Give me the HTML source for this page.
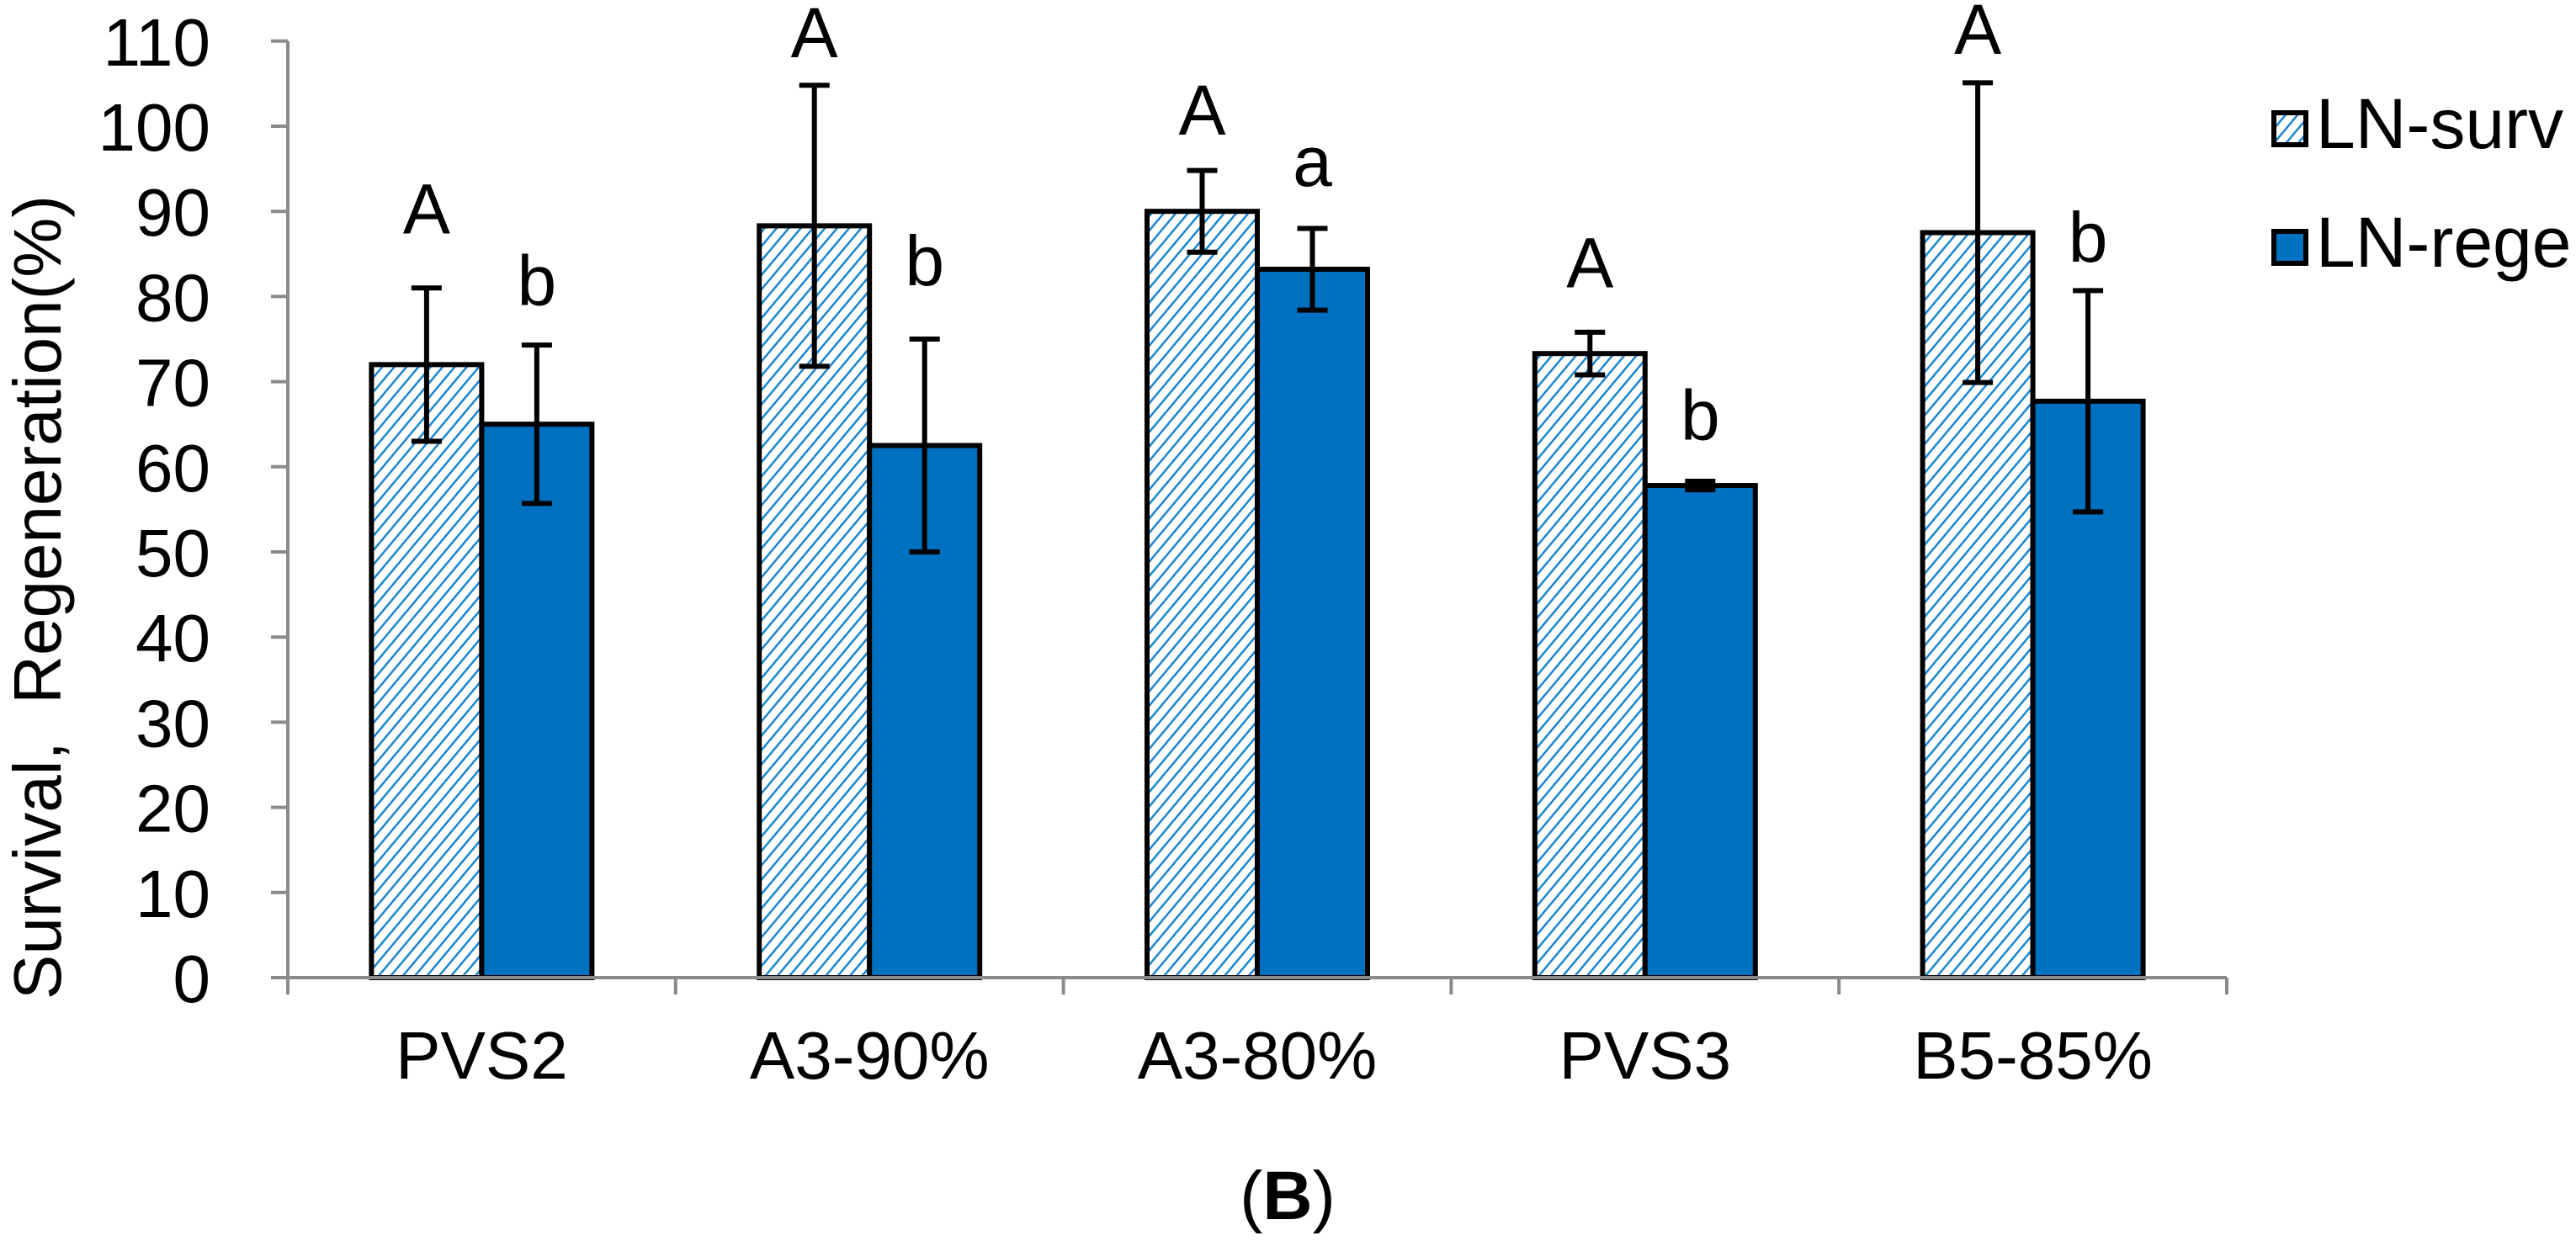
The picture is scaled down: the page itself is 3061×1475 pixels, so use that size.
<!DOCTYPE html>
<html><head><meta charset="utf-8"><style>
html,body{margin:0;padding:0;background:#fff;}
svg{display:block;}
text{font-family:"Liberation Sans",Arial,sans-serif;fill:#000;}
</style></head><body>
<svg id="chart" width="3061" height="1475" viewBox="0 0 3061 1475">
<defs>
<pattern id="hatch" patternUnits="userSpaceOnUse" width="11" height="11" patternTransform="rotate(40)">
<rect width="11" height="11" fill="#fff"/>
<line x1="0" y1="0" x2="0" y2="11" stroke="#1a86d0" stroke-width="5"/>
</pattern>
</defs>
<g id="grid"></g>
<g id="bars"></g>
<g id="axes"></g>
</svg>
<script>
const categories = ["PVS2","A3-90%","A3-80%","PVS3","B5-85%"];
const survValues = [72, 88.3, 90, 73.3, 87.5];
const survErrors = [9, 16.5, 4.8, 2.5, 17.6];
const regeValues = [65, 62.5, 83.2, 57.8, 67.7];
const regeErrors = [9.3, 12.5, 4.8, 0.5, 13];
const survLetters = ["A","A","A","A","A"];
const regeLetters = ["b","b","a","b","b"];
const survLetterPos = [87.4, 108.1, 99, 81.1, 108.5];
const regeLetterPos = [79, 81.3, 93, 63.2, 84.1];
const yTicks = [0,10,20,30,40,50,60,70,80,90,100,110];

const NS = "http://www.w3.org/2000/svg";
const X0 = 342, X1 = 2646, Y0 = 1162, YPU = 10.12;
const catW = (X1 - X0) / categories.length;
const barW = 131;
function yS(v){ return Y0 - v * YPU; }
function xC(i){ return X0 + catW * (i + 0.5); }
function mk(tag, attrs, parent){
  const e = document.createElementNS(NS, tag);
  for (const k in attrs) e.setAttribute(k, attrs[k]);
  parent.appendChild(e); return e;
}
const svg = document.getElementById('chart');
const bars = document.getElementById('bars');
const axes = document.getElementById('axes');

let yl = mk('line', {x1:X0, y1:yS(110), x2:X0, y2:Y0, stroke:'#8a8a8a', 'stroke-width':4}, axes);


yTicks.forEach(t => {
  const tk = mk('line', {x1:X0-20, y1:yS(t), x2:X0, y2:yS(t), stroke:'#8a8a8a', 'stroke-width':4}, axes);
  
  
  const tl = mk('text', {x:250, y:yS(t)+29, 'text-anchor':'end', 'font-size':80, transform:'', textLength:''}, axes);
  tl.removeAttribute('transform'); tl.removeAttribute('textLength');
  tl.textContent = t;
  
  
});
let xl = mk('line', {x1:X0, y1:Y0, x2:X1, y2:Y0, stroke:'#8a8a8a', 'stroke-width':4}, axes);


for (let i = 0; i <= categories.length; i++) {
  const tk = mk('line', {x1:X0+catW*i, y1:Y0, x2:X0+catW*i, y2:Y0+20, stroke:'#8a8a8a', 'stroke-width':4}, axes);
  
  
}
categories.forEach((c, i) => {
  const tl = mk('text', {x:xC(i), y:1282, 'text-anchor':'middle', 'font-size':80}, axes);
  tl.textContent = c;
  
  
});
let yt = mk('text', {x:0, y:0, 'text-anchor':'middle', 'font-size':80, 'xml:space':'preserve', transform:'translate(72,710) rotate(-90)'}, axes);
yt.textContent = 'Survival,\u00a0\u00a0Regeneration(%)';



function errBar(cx, v, e, name){
  const g = mk('g', {stroke:'#000', 'stroke-width':6}, bars);
  
  
  mk('line', {x1:cx, y1:yS(v+e), x2:cx, y2:yS(v-e)}, g);
  mk('line', {x1:cx-18, y1:yS(v+e), x2:cx+18, y2:yS(v+e)}, g);
  mk('line', {x1:cx-18, y1:yS(v-e), x2:cx+18, y2:yS(v-e)}, g);
}
categories.forEach((c, i) => {
  const cx = xC(i);
  const r1 = mk('rect', {x:cx-barW, y:yS(survValues[i]), width:barW, height:Y0-yS(survValues[i]), fill:'url(#hatch)', stroke:'#000', 'stroke-width':6}, bars);
  
  
  const r2 = mk('rect', {x:cx, y:yS(regeValues[i]), width:barW, height:Y0-yS(regeValues[i]), fill:'#0070C0', stroke:'#000', 'stroke-width':6}, bars);
  
  
  errBar(cx-barW/2, survValues[i], survErrors[i], 'error-bar-surv');
  errBar(cx+barW/2, regeValues[i], regeErrors[i], 'error-bar-rege');
  const l1 = mk('text', {x:cx-barW/2, y:yS(survLetterPos[i]), 'text-anchor':'middle', 'font-size':84}, bars);
  l1.textContent = survLetters[i];
  
  
  const l2 = mk('text', {x:cx+barW/2, y:yS(regeLetterPos[i]), 'text-anchor':'middle', 'font-size':84}, bars);
  l2.textContent = regeLetters[i];
  
  
});
const lg = mk('g', {}, svg);


let s1 = mk('rect', {x:2702, y:134, width:38, height:38, fill:'url(#hatch)', stroke:'#000', 'stroke-width':6}, lg);


let t1 = mk('text', {x:2752, y:176, 'font-size':84}, lg);
t1.textContent = 'LN-surv';


let s2 = mk('rect', {x:2702, y:275, width:38, height:38, fill:'#0070C0', stroke:'#000', 'stroke-width':6}, lg);


let t2 = mk('text', {x:2752, y:317, 'font-size':84}, lg);
t2.textContent = 'LN-rege';


let cap = mk('text', {x:1530, y:1449, 'text-anchor':'middle', 'font-size':82, 'font-family':'"Liberation Serif", serif'}, svg);
cap.innerHTML = '(<tspan font-weight="bold">B</tspan>)';


</script>
</body></html>
